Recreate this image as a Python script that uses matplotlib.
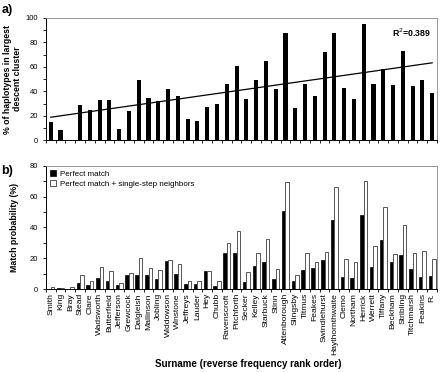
import numpy as np
import matplotlib
matplotlib.use("Agg")
import matplotlib.pyplot as plt
from matplotlib.ticker import MultipleLocator

plt.rcParams['font.family'] = ['Liberation Sans', 'DejaVu Sans']

surnames = ["Smith", "King", "Bray", "Stead", "Clare", "Wadsworth", "Butterfield",
            "Jefferson", "Grewcock", "Dalgleish", "Mallinson", "Jobling", "Widdowson",
            "Winstone", "Jeffreys", "Lauder", "Hey", "Chubb", "Ravenscroft", "Pitchforth",
            "Secker", "Kelley", "Starbuck", "Stinn", "Attenborough", "Slingsby", "Titmus",
            "Feakes", "Swindlehurst", "Haythornthwaite", "Clemo", "Northam", "Herrick",
            "Werrett", "Tiffany", "Beckham", "Stribling", "Titchmarsh", "Feakins", "R."]

# panel a: % of haplotypes in largest descent cluster
cluster_pct = [15, 8.7, 0, 28.6, 24.8, 33, 33, 9.5, 24, 49.3, 34.9, 31.9, 42, 36.5,
               17.7, 16, 27.2, 29.4, 46.3, 60.5, 33.5, 49.3, 64.6, 42.2, 87.7, 26.4,
               46.3, 36, 71.7, 87.7, 43, 33.8, 94.8, 46.3, 58, 45.5, 73.3, 44.7, 49.3, 39]
r2_label = "R$^2$=0.389"

# panel b: match probabilities
perfect = [0.2, 0.4, 0, 3.7, 2.4, 7.4, 5.3, 2.4, 9, 9.4, 9, 6.6, 18.4, 9.9, 3.1, 3.1,
           11.4, 2, 23.7, 23.7, 4.4, 14.9, 17.5, 6.6, 50.6, 5.3, 12.5, 13.6, 18.6, 44.9,
           7.9, 7.2, 48.2, 14.2, 32, 17.5, 21.9, 12.9, 7.9, 8.5]
single_step = [1.1, 0.9, 1.1, 9, 5.3, 14.2, 12, 3.7, 10.5, 20, 13.4, 12.5, 18.6, 16.4,
               5, 5, 11.6, 5, 30, 37.5, 11, 23.7, 32.6, 12.9, 69.4, 9, 23.7, 17.7, 24.3,
               66.2, 19.3, 17.5, 70.5, 28, 53.5, 22.6, 41.8, 23.7, 24.5, 19.3]

x = np.arange(len(surnames))
n = len(surnames)

fig = plt.figure(figsize=(4.41, 3.72), dpi=100)
ax1 = fig.add_axes([0.104, 0.623, 0.887, 0.329])
ax2 = fig.add_axes([0.104, 0.223, 0.887, 0.331])

# --- panel a
ax1.bar(x, cluster_pct, width=0.42, color="black")
slope, icpt = np.polyfit(x, cluster_pct, 1)
ax1.plot(x, slope * x + icpt, color="black", lw=0.9)
ax1.text(0.985, 0.93, r2_label, transform=ax1.transAxes, ha="right", va="top",
         fontsize=6.3, fontweight="bold")
ax1.set_ylim(0, 100)
ax1.yaxis.set_major_locator(MultipleLocator(20))
ax1.yaxis.set_minor_locator(MultipleLocator(10))
ax1.set_ylabel("% of haplotypes in largest\ndescent cluster", fontsize=6.3,
               fontweight="bold", labelpad=3, linespacing=1.15)

# --- panel b
w = 0.36
ax2.bar(x - w / 2, perfect, width=w, color="black", edgecolor="black", lw=0.5,
        label="Perfect match")
ax2.bar(x + w / 2, single_step, width=w, color="white", edgecolor="#555555", lw=0.7,
        label="Perfect match + single-step neighbors")
ax2.set_ylim(0, 80)
ax2.yaxis.set_major_locator(MultipleLocator(20))
ax2.yaxis.set_minor_locator(MultipleLocator(10))
ax2.set_ylabel("Match probability (%)", fontsize=6.3, fontweight="bold", labelpad=8)
ax2.legend(loc="upper left", frameon=False, fontsize=5.8, handlelength=0.7,
           handleheight=0.7, handletextpad=0.6, labelspacing=0.35,
           borderaxespad=0.2, borderpad=0.3)

for ax in (ax1, ax2):
    ax.set_xlim(-0.5, n - 0.5)
    ax.set_xticks(np.arange(n + 1) - 0.5)
    ax.set_xticklabels([])
    ax.tick_params(axis="both", which="both", direction="out", length=2.5,
                   width=0.6, labelsize=5.5, pad=3)
    ax.tick_params(axis="y", which="minor", length=2)
    for side in ("top", "right"):
        ax.spines[side].set_color("#888888")
        ax.spines[side].set_linewidth(0.6)
    for side in ("left", "bottom"):
        ax.spines[side].set_linewidth(0.7)

ax2.set_xticks(x, minor=True)
ax2.set_xticklabels(surnames, minor=True, rotation=90, fontsize=6.1)
ax2.tick_params(axis="x", which="minor", length=0, pad=3)

fig.text(0.562, 0.022, "Surname (reverse frequency rank order)", fontsize=7,
         fontweight="bold", ha="center", va="center")
fig.text(0.003, 0.988, "a)", fontsize=9, fontweight="bold", va="top")
fig.text(0.003, 0.556, "b)", fontsize=9, fontweight="bold", va="top")

fig.savefig("out.png", dpi=100)
